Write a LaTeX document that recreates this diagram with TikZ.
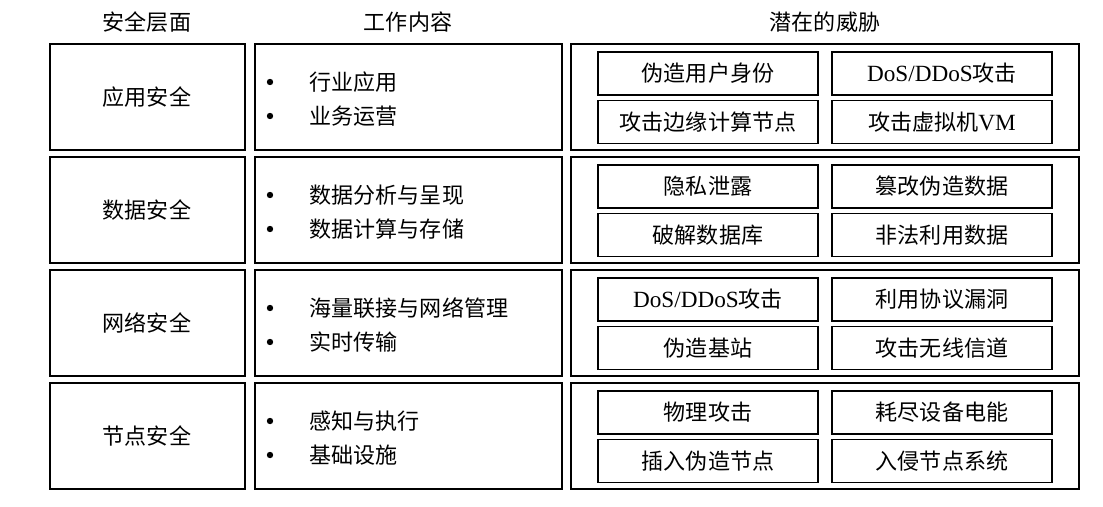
\documentclass[tikz,border=0pt]{standalone}
\usepackage{fontspec}
\setmainfont{Liberation Serif}
\newfontfamily\cjk{Noto Sans CJK SC}[Scale=0.95]
\begin{document}
\begin{tikzpicture}[x=0.01cm,y=-0.01cm,font=\fontsize{6.6pt}{8pt}\selectfont\cjk,
  outer/.style={draw,line width=0.35pt},
  inbox/.style={draw,line width=0.35pt,minimum width=2.2cm,minimum height=0.43cm,inner sep=0pt},
  lab/.style={inner sep=0pt}]
\useasboundingbox (0,0) rectangle (1103,506);
\node[lab] (h1) at (147,22) {安全层面};
\node[lab] (h2) at (408,22) {工作内容};
\node[lab] (h3) at (825,22) {潜在的威胁};
\foreach \i/\name/\wa/\wb/\ta/\tb/\tc/\td in {
 0/应用安全/行业应用/业务运营/伪造用户身份/{\rmfamily DoS/DDoS}攻击/攻击边缘计算节点/攻击虚拟机{\rmfamily VM},
 1/数据安全/数据分析与呈现/数据计算与存储/隐私泄露/篡改伪造数据/破解数据库/非法利用数据,
 2/网络安全/海量联接与网络管理/实时传输/{\rmfamily DoS/DDoS}攻击/利用协议漏洞/伪造基站/攻击无线信道,
 3/节点安全/感知与执行/基础设施/物理攻击/耗尽设备电能/插入伪造节点/入侵节点系统}{
  \pgfmathsetmacro\oy{44+113*\i}
  \draw[outer] (50,\oy) rectangle ++(195,106);
  \draw[outer] (255,\oy) rectangle ++(307,106);
  \draw[outer] (571,\oy) rectangle ++(508,106);
  \node[lab] (n\i) at (147,\oy+53) {\name};
  \fill (270,\oy+38) circle (3.2);
  \fill (270,\oy+72) circle (3.2);
  \node[lab,anchor=west] (wa\i) at (309,\oy+38) {\wa};
  \node[lab,anchor=west] (wb\i) at (309,\oy+72) {\wb};
  \node[inbox] (ta\i) at (708,\oy+29.5) {\ta};
  \node[inbox] (tb\i) at (942,\oy+29.5) {\tb};
  \node[inbox] (tc\i) at (708,\oy+78) {\tc};
  \node[inbox] (td\i) at (942,\oy+78) {\td};
}
\end{tikzpicture}
\end{document}
